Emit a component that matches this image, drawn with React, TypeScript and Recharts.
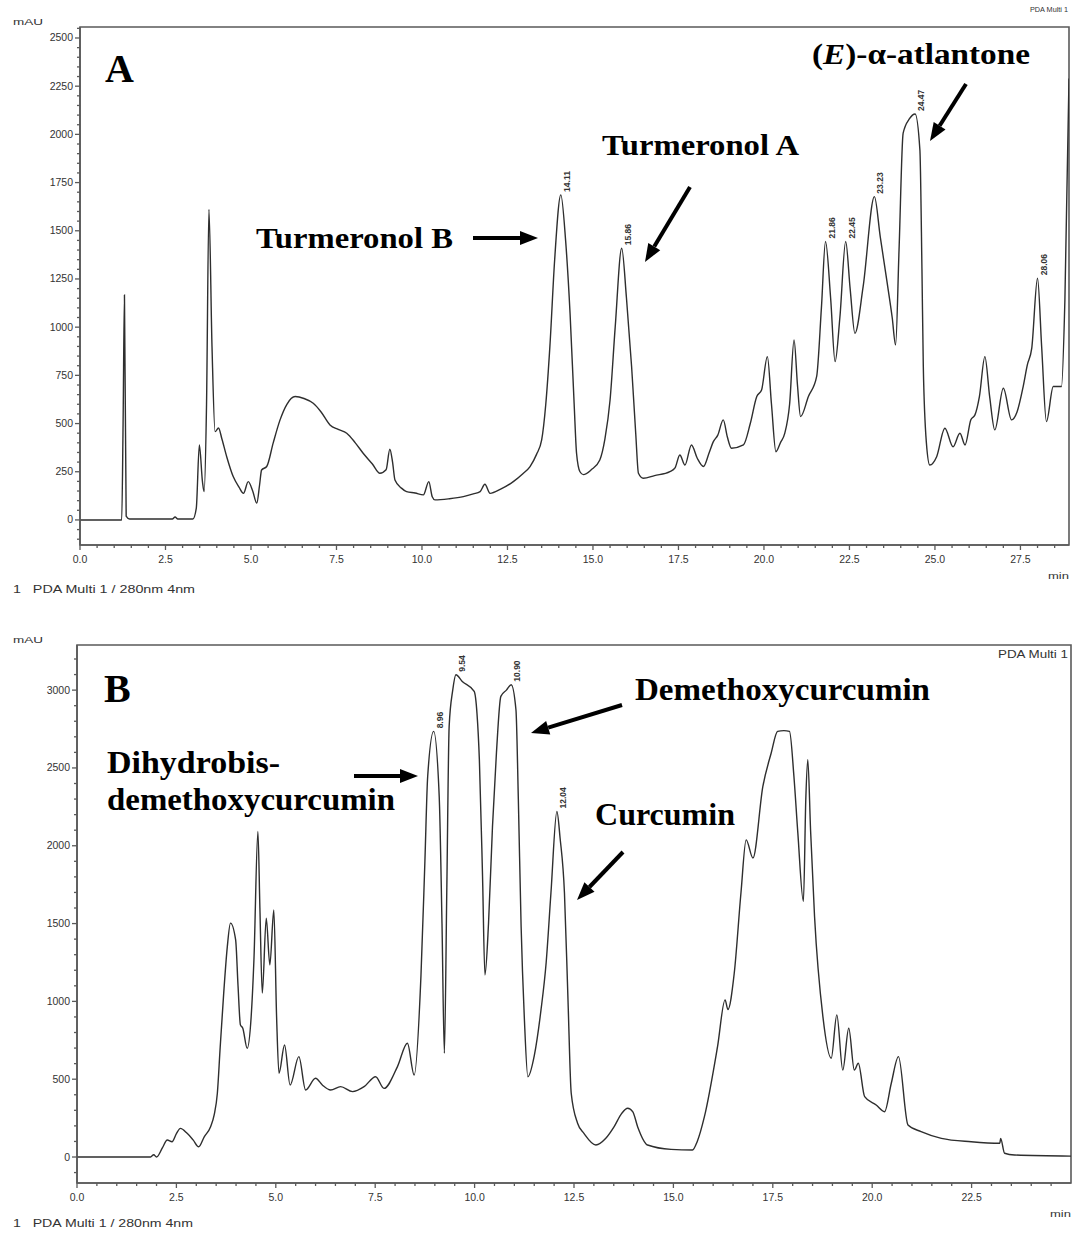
import { LineChart, Line, XAxis, YAxis, ReferenceArea, ReferenceDot } from "recharts";

// Chromatogram A (retention time in min, absorbance in mAU)
const timeA = [
  0, 1.22, 1.26, 1.3, 1.35, 1.45, 2.7, 2.78, 2.86, 3.3, 3.4, 3.49, 3.58, 3.63, 3.7, 3.77, 3.86, 3.95,
  4.05, 4.15, 4.29, 4.48, 4.65, 4.78, 4.92, 5.05, 5.17, 5.25, 5.31, 5.46, 5.65, 5.85, 6.05, 6.29, 6.55,
  6.82, 7.05, 7.31, 7.55, 7.8, 8.05, 8.28, 8.55, 8.77, 8.95, 9.06, 9.14, 9.21, 9.4, 9.55, 9.8, 10.04,
  10.2, 10.3, 10.38, 10.8, 11.21, 11.5, 11.7, 11.84, 11.99, 12.3, 12.67, 12.95, 13.16, 13.35, 13.5,
  13.62, 13.74, 13.88, 14.06, 14.2, 14.33, 14.45, 14.52, 14.62, 14.72, 14.95, 15.2, 15.35, 15.5, 15.65,
  15.84, 15.98, 16.13, 16.25, 16.33, 16.47, 16.8, 17.25, 17.4, 17.54, 17.69, 17.88, 18.05, 18.23, 18.4,
  18.52, 18.65, 18.81, 18.93, 19.05, 19.4, 19.6, 19.79, 19.93, 20.1, 20.22, 20.35, 20.48, 20.61, 20.75,
  20.88, 20.98, 21.07, 21.3, 21.54, 21.68, 21.8, 21.95, 22.08, 22.22, 22.39, 22.52, 22.66, 22.9, 23.23,
  23.4, 23.59, 23.75, 23.85, 23.95, 24.07, 24.25, 24.42, 24.56, 24.62, 24.66, 24.75, 24.85, 25.05, 25.29,
  25.53, 25.73, 25.88, 26.05, 26.17, 26.3, 26.46, 26.6, 26.75, 27.0, 27.24, 27.4, 27.58, 27.7, 27.83,
  28.0, 28.12, 28.26, 28.46, 28.7, 28.8, 28.92,
];
const mauA = [
  0, 0, 500, 1167, 20, 5, 5, 15, 5, 5, 60, 389, 200, 147, 600, 1611, 900, 458,
  477, 420, 328, 225, 170, 138, 199, 150, 87, 180, 259, 277, 400, 519, 600, 640, 630,
  605, 560, 493, 470, 450, 400, 346, 290, 242, 260, 367, 300, 207, 165, 147, 140, 130,
  199, 120, 104, 110, 121, 135, 147, 185, 138, 160, 199, 240, 277, 340, 415,
  600, 899, 1350, 1686, 1450, 1072, 600, 346, 250, 235, 260, 311, 420, 622, 1000,
  1409, 1150, 795, 450, 242, 216, 230, 251, 270, 337, 285, 389, 320, 277, 350,
  406, 440, 519, 430, 372, 389, 500, 640, 674, 847, 600, 354, 400, 450, 600,
  934, 700, 536, 640, 743, 1100, 1444, 1150, 821, 1050, 1444, 1200, 968, 1210, 1677,
  1470, 1245, 1050, 908, 1400, 2006, 2080, 2106, 1919, 1300, 795, 400, 285, 328, 476,
  380, 450, 389, 520, 545, 640, 847, 640, 467, 683, 519, 560, 692, 803, 890,
  1254, 900, 510, 692, 692, 1141, 2290,
];

// Chromatogram B
const timeB = [
  0, 1.85, 1.93, 2.0, 2.15, 2.27, 2.39, 2.5, 2.6, 2.77, 2.92, 3.06, 3.2, 3.36, 3.45, 3.53, 3.6, 3.69,
  3.78, 3.86, 3.99, 4.05, 4.11, 4.17, 4.28, 4.38, 4.45, 4.55, 4.6, 4.66, 4.76, 4.85, 4.95, 5.02, 5.08,
  5.22, 5.36, 5.58, 5.75, 6.0, 6.17, 6.38, 6.63, 6.93, 7.22, 7.51, 7.72, 8.06, 8.31, 8.48, 8.65, 8.75,
  8.82, 8.97, 9.11, 9.18, 9.24, 9.3, 9.36, 9.45, 9.53, 9.69, 9.99, 10.06, 10.12, 10.2, 10.26, 10.35,
  10.45, 10.55, 10.66, 10.8, 10.92, 11.04, 11.1, 11.17, 11.25, 11.34, 11.5, 11.67, 11.8, 11.92, 12.07,
  12.15, 12.26, 12.35, 12.43, 12.59, 12.75, 13.05, 13.3, 13.51, 13.7, 13.85, 13.98, 14.1, 14.35, 14.94,
  15.48, 15.6, 15.78, 16.11, 16.3, 16.37, 16.53, 16.7, 16.83, 17.0, 17.25, 17.46, 17.62, 17.78, 17.92,
  18.03, 18.13, 18.27, 18.33, 18.38, 18.45, 18.55, 18.76, 18.97, 19.11, 19.26, 19.41, 19.55, 19.65,
  19.81, 20.1, 20.31, 20.48, 20.66, 20.9, 21.23, 21.74, 22.49, 23.21, 23.23, 23.33, 23.58, 25.0,
];
const mauB = [
  0, 0, 15, 0, 60, 109, 98, 150, 184, 152, 110, 66, 130, 195, 270, 410, 700, 1053,
  1350, 1503, 1395, 1100, 849, 828, 699, 900, 1267, 2092, 1600, 1053, 1535, 1235, 1588, 900, 538,
  720, 463, 645, 431, 506, 463, 431, 452, 420, 452, 516, 441, 581, 731, 527, 1159, 1900,
  2445, 2735, 2317, 1500, 667, 1700, 2767, 3000, 3099, 3056, 2992, 2850, 2553, 1800, 1170, 1500,
  2124, 2600, 2960, 3000, 3035, 2874, 2300, 1481, 900, 516, 650, 945, 1250, 1696, 2220,
  2050, 1696, 1000, 410, 217, 152, 77, 120, 195, 280, 313, 290, 195, 77, 49,
  45, 100, 259, 709, 1010, 948, 1181, 1700, 2038, 1921, 2381, 2596, 2735, 2740, 2735,
  2450, 2081, 1642, 2300, 2553, 2100, 1545, 902, 635, 913, 559, 827, 559, 602,
  388, 334, 291, 474, 645, 206, 163, 120, 98, 88, 120, 24, 13, 6,
];

// retention-time labels printed above the marked peaks
const peakTimesA = [14.06, 15.84, 21.8, 22.39, 23.23, 24.42, 28.0];
const peakMauA = [1686, 1409, 1444, 1444, 1677, 2106, 1254];
const peakTextA = ["14.11", "15.86", "21.86", "22.45", "23.23", "24.47", "28.06"];
const peakTimesB = [8.97, 9.53, 10.92, 12.07];
const peakMauB = [2735, 3099, 3035, 2220];
const peakTextB = ["8.96", "9.54", "10.90", "12.04"];

const steps = (from: number, to: number, step: number) => {
  const out: number[] = [];
  for (let i = Math.round(from / step); i * step <= to + 1e-9; i++) out.push(+(i * step).toFixed(4));
  return out;
};

const AXIS = "#5a5a5a";
const TRACE = "#2e2e2e";
const SANS = "'Liberation Sans', Arial, sans-serif";
const SERIF = "'Liberation Serif', 'Times New Roman', serif";
const CAPTION = "1\u00a0\u00a0\u00a0PDA Multi 1 / 280nm 4nm";

const isMultiple = (v: number, m: number) => Math.abs(v / m - Math.round(v / m)) < 1e-6;

const XTick = (props: any) => {
  const { x, y, payload, major } = props;
  const v = payload.value as number;
  const big = isMultiple(v, major);
  return (
    <g>
      <line x1={x} x2={x} y1={y} y2={y + (big ? 5 : 3)} stroke={AXIS} strokeWidth={1.3} />
      {big && (
        <text x={x} y={y + 18} textAnchor="middle" fontSize={10.5} fontFamily={SANS} fill="#333">
          {v.toFixed(1)}
        </text>
      )}
    </g>
  );
};

const YTick = (props: any) => {
  const { x, y, payload, major } = props;
  const v = payload.value as number;
  const big = isMultiple(v, major);
  return (
    <g>
      <line x1={x - (big ? 5 : 3)} x2={x} y1={y} y2={y} stroke={AXIS} strokeWidth={1.3} />
      {big && (
        <text x={x - 7} y={y + 3.5} textAnchor="end" fontSize={10.5} fontFamily={SANS} fill="#333">
          {v}
        </text>
      )}
    </g>
  );
};

const PeakLabel = ({ cx, cy, text, dx }: { cx: number; cy: number; text: string; dx: number }) => (
  <text
    transform={`translate(${cx + dx},${cy - 3}) rotate(-90)`}
    fontSize={8.5}
    fontWeight="bold"
    fontFamily={SANS}
    fill="#333"
  >
    {text}
  </text>
);

interface ChromProps {
  times: number[];
  values: number[];
  xMax: number;
  yMin: number;
  yMax: number;
  xMinor: number[];
  yMinor: number[];
  yMajor: number;
  yWidth: number;
  height: number;
  margin: { top: number; right: number; bottom: number; left: number };
  peakTimes: number[];
  peakMau: number[];
  peakText: string[];
}

const Chromatogram = (p: ChromProps) => {
  const data = p.times.map((t, i) => ({ t, v: p.values[i] }));
  return (
    <LineChart width={1072} height={p.height} data={data} margin={p.margin}>
      <XAxis
        dataKey="t"
        type="number"
        domain={[0, p.xMax]}
        ticks={p.xMinor}
        interval={0}
        allowDataOverflow
        height={30}
        tickSize={0}
        tickMargin={0}
        tickLine={false}
        axisLine={{ stroke: AXIS, strokeWidth: 1.6 }}
        tick={<XTick major={2.5} />}
      />
      <YAxis
        type="number"
        domain={[p.yMin, p.yMax]}
        ticks={p.yMinor}
        interval={0}
        allowDataOverflow
        width={p.yWidth}
        tickSize={0}
        tickMargin={0}
        tickLine={false}
        axisLine={{ stroke: AXIS, strokeWidth: 1.6 }}
        tick={<YTick major={p.yMajor} />}
      />
      <ReferenceArea
        x1={0}
        x2={p.xMax}
        y1={p.yMin}
        y2={p.yMax}
        fill="none"
        stroke={AXIS}
        strokeWidth={1.6}
        ifOverflow="visible"
      />
      <Line
        type="monotoneX"
        dataKey="v"
        stroke={TRACE}
        strokeWidth={1.4}
        dot={false}
        isAnimationActive={false}
      />
      {p.peakTimes.map((t, i) => (
        <ReferenceDot
          key={p.peakText[i]}
          x={t}
          y={p.peakMau[i]}
          r={0}
          ifOverflow="visible"
          shape={(s: any) => <PeakLabel cx={s.cx} cy={s.cy} text={p.peakText[i]} dx={9} />}
        />
      ))}
    </LineChart>
  );
};

const Arrow = ({ x1, y1, x2, y2 }: { x1: number; y1: number; x2: number; y2: number }) => {
  const a = Math.atan2(y2 - y1, x2 - x1);
  const len = 18;
  const w = 7;
  const bx = x2 - len * Math.cos(a);
  const by = y2 - len * Math.sin(a);
  const nx = -Math.sin(a) * w;
  const ny = Math.cos(a) * w;
  return (
    <g>
      <line x1={x1} y1={y1} x2={bx} y2={by} stroke="#000" strokeWidth={4} />
      <polygon points={`${x2},${y2} ${bx + nx},${by + ny} ${bx - nx},${by - ny}`} fill="#000" />
    </g>
  );
};

const Bold = ({ x, y, size, len, children }: any) => (
  <text
    x={x}
    y={y}
    fontSize={size}
    fontWeight="bold"
    fontFamily={SERIF}
    fill="#000"
    textLength={len}
    lengthAdjust="spacingAndGlyphs"
  >
    {children}
  </text>
);

const Small = ({ x, y, size, len, anchor, children }: any) => (
  <text
    x={x}
    y={y}
    fontSize={size}
    fontFamily={SANS}
    fill="#333"
    textLength={len}
    lengthAdjust="spacingAndGlyphs"
    textAnchor={anchor}
  >
    {children}
  </text>
);

export default function App() {
  return (
    <div style={{ position: "absolute", left: 0, top: 0, width: 1072, height: 1234, background: "#fff" }}>
      <div style={{ position: "absolute", left: 0, top: 0 }}>
        <Chromatogram
          times={timeA}
          values={mauA}
          xMax={28.92}
          yMin={-130}
          yMax={2557}
          xMinor={steps(0, 28.5, 0.5)}
          yMinor={steps(-100, 2550, 50)}
          yMajor={250}
          yWidth={80}
          height={600}
          margin={{ top: 27, right: 3, bottom: 25, left: 0 }}
          peakTimes={peakTimesA}
          peakMau={peakMauA}
          peakText={peakTextA}
        />
      </div>
      <div style={{ position: "absolute", left: 0, top: 620 }}>
        <Chromatogram
          times={timeB}
          values={mauB}
          xMax={25}
          yMin={-167}
          yMax={3290}
          xMinor={steps(0, 24.5, 0.5)}
          yMinor={steps(-100, 3200, 100)}
          yMajor={500}
          yWidth={77}
          height={614}
          margin={{ top: 25, right: 1, bottom: 21, left: 0 }}
          peakTimes={peakTimesB}
          peakMau={peakMauB}
          peakText={peakTextB}
        />
      </div>
      <svg
        width={1072}
        height={1234}
        style={{ position: "absolute", left: 0, top: 0, pointerEvents: "none" }}
      >
        {/* panel A */}
        <Small x={13} y={25} size={9} len={30}>mAU</Small>
        <Small x={1068} y={12} size={8} len={38} anchor="end">PDA Multi 1</Small>
        <Small x={1048} y={579} size={9} len={21}>min</Small>
        <Small x={13} y={593} size={10} len={182}>{CAPTION}</Small>
        <Bold x={105} y={82} size={40}>A</Bold>
        <Bold x={256} y={248} size={30} len={197}>Turmeronol B</Bold>
        <Arrow x1={473} y1={238} x2={538} y2={238} />
        <Bold x={602} y={155} size={30} len={197}>Turmeronol A</Bold>
        <Arrow x1={690} y1={187} x2={645} y2={262} />
        <text
          x={812}
          y={64}
          fontSize={30}
          fontWeight="bold"
          fontFamily={SERIF}
          textLength={218}
          lengthAdjust="spacingAndGlyphs"
        >
          (<tspan fontStyle="italic">E</tspan>)-α-atlantone
        </text>
        <Arrow x1={966} y1={84} x2={930} y2={141} />

        {/* panel B */}
        <Small x={13} y={643} size={9} len={30}>mAU</Small>
        <Small x={1068} y={658} size={11} len={70} anchor="end">PDA Multi 1</Small>
        <Small x={1050} y={1217} size={9} len={21}>min</Small>
        <Small x={13} y={1227} size={10} len={180}>{CAPTION}</Small>
        <Bold x={104} y={702} size={40}>B</Bold>
        <Bold x={107} y={773} size={31} len={173}>Dihydrobis-</Bold>
        <Bold x={107} y={810} size={31} len={288}>demethoxycurcumin</Bold>
        <Arrow x1={354} y1={776} x2={418} y2={776} />
        <Bold x={635} y={700} size={31} len={295}>Demethoxycurcumin</Bold>
        <Arrow x1={622} y1={705} x2={531} y2={733} />
        <Bold x={595} y={825} size={31} len={140}>Curcumin</Bold>
        <Arrow x1={623} y1={852} x2={577} y2={900} />
      </svg>
    </div>
  );
}
